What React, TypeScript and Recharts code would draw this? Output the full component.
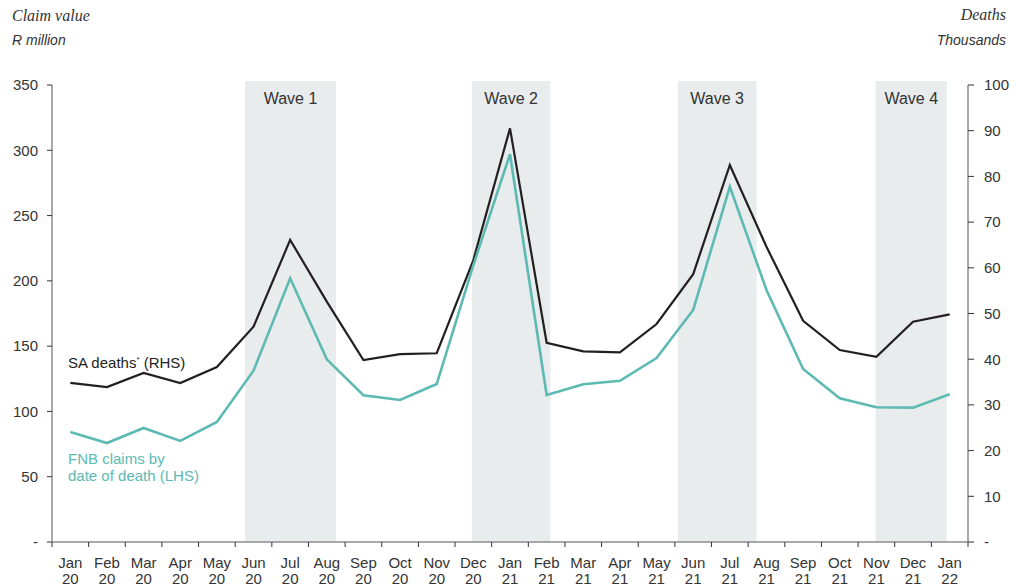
import React from 'react';
import { LineChart, Line, XAxis, YAxis, ReferenceArea } from 'recharts';

const categories = [
  'Jan 20', 'Feb 20', 'Mar 20', 'Apr 20', 'May 20', 'Jun 20', 'Jul 20', 'Aug 20', 'Sep 20', 'Oct 20', 'Nov 20', 'Dec 20',
  'Jan 21', 'Feb 21', 'Mar 21', 'Apr 21', 'May 21', 'Jun 21', 'Jul 21', 'Aug 21', 'Sep 21', 'Oct 21', 'Nov 21', 'Dec 21',
  'Jan 22',
];

// FNB claims by date of death, R million (LHS)
const fnbClaims = [
  84.2, 75.8, 87.3, 77.4, 91.9, 131.2, 202, 139.9, 112.4, 108.8, 121, 212,
  297, 112.6, 120.8, 123.5, 140.9, 177.7, 272.1, 193, 132.5, 110.1, 103.2, 102.9,
  113.1,
];

// SA deaths, thousands (RHS)
const saDeaths = [
  34.8, 33.9, 37, 34.8, 38.3, 47.1, 66.1, 52.6, 39.8, 41.1, 41.3, 61.7,
  90.5, 43.6, 41.7, 41.5, 47.7, 58.6, 82.5, 64.6, 48.4, 42, 40.5, 48.2,
  49.8,
];

const leftTicks = [0, 50, 100, 150, 200, 250, 300, 350];
const rightTicks = [0, 10, 20, 30, 40, 50, 60, 70, 80, 90, 100];

// wave periods in month-index units
const waveNames = ['Wave 1', 'Wave 2', 'Wave 3', 'Wave 4'];
const waveStart = [4.77, 10.96, 16.58, 21.98];
const waveEnd = [7.25, 13.1, 18.73, 23.92];

const W = 1017;
const H = 585;
const MARGIN = { top: 85, right: 4, bottom: 0, left: 8 };
const LEFT_W = 44;
const RIGHT_W = 45;
const STEP = (W - MARGIN.left - MARGIN.right - LEFT_W - RIGHT_W) / categories.length;

const TEAL = '#5cbab2';
const DARK = '#231f20';
const TEXT = '#333';
const AXIS = '#8c8c8c';
const NARROW = "'Liberation Sans Narrow', 'Liberation Sans', Arial, sans-serif";
const SANS = "'Liberation Sans', Arial, sans-serif";
const SERIF = "'Liberation Serif', Georgia, serif";

const data = categories.map((c, i) => ({ idx: i, label: c, fnb: fnbClaims[i], deaths: saDeaths[i] }));

const MonthTick = (props: any) => {
  const { x, y, payload } = props;
  const [m, yr] = categories[payload.value].split(' ');
  const last = payload.value === categories.length - 1;
  return (
    <g>
      <line x1={x - STEP / 2} x2={x - STEP / 2} y1={y} y2={y + 5} stroke={TEXT} strokeWidth={1} />
      {last && <line x1={x + STEP / 2} x2={x + STEP / 2} y1={y} y2={y + 5} stroke={TEXT} strokeWidth={1} />}
      <text x={x} y={y + 25.5} textAnchor="middle" fontSize={15} fill={TEXT} fontFamily={NARROW}>{m}</text>
      <text x={x} y={y + 41.5} textAnchor="middle" fontSize={15} fill={TEXT} fontFamily={NARROW}>{yr}</text>
    </g>
  );
};

const WaveRect = (p: any) => (
  <rect x={p.x} y={p.y - 4} width={p.width} height={p.height + 4} fill="#e8eced" />
);

const zeroDash = (v: number) => (v === 0 ? '-' : String(v));

export default function App() {
  return (
    <div style={{ position: 'absolute', left: 0, top: 0, width: W, height: H, background: '#fff' }}>
      <LineChart width={W} height={H} data={data} margin={MARGIN}>
        <XAxis
          dataKey="idx"
          type="number"
          domain={[-0.5, categories.length - 0.5]}
          ticks={categories.map((_, i) => i)}
          interval={0}
          tick={MonthTick}
          tickLine={false}
          tickSize={0}
          tickMargin={0}
          axisLine={{ stroke: AXIS, strokeWidth: 1.5 }}
          height={43}
          allowDataOverflow
        />
        <YAxis
          yAxisId="left"
          domain={[0, 350]}
          ticks={leftTicks}
          interval={0}
          width={LEFT_W}
          tickSize={5}
          tickMargin={9}
          tickLine={{ stroke: TEXT }}
          axisLine={{ stroke: AXIS, strokeWidth: 1.5 }}
          tickFormatter={zeroDash}
          tick={{ fontSize: 15, fill: TEXT, fontFamily: NARROW }}
        />
        <YAxis
          yAxisId="right"
          orientation="right"
          domain={[0, 100]}
          ticks={rightTicks}
          interval={0}
          width={RIGHT_W}
          tickSize={6}
          tickMargin={10}
          tickLine={{ stroke: TEXT }}
          axisLine={{ stroke: AXIS, strokeWidth: 1.5 }}
          tickFormatter={zeroDash}
          tick={{ fontSize: 15, fill: TEXT, fontFamily: NARROW }}
        />
        {waveNames.map((name, i) => (
          <ReferenceArea
            key={name}
            yAxisId="left"
            x1={waveStart[i]}
            x2={waveEnd[i]}
            shape={WaveRect}
            label={{ value: name, position: 'insideTop', offset: 8, fill: TEXT, fontSize: 16, fontFamily: SANS }}
          />
        ))}
        <Line
          yAxisId="right"
          type="linear"
          dataKey="deaths"
          stroke={DARK}
          strokeWidth={2.2}
          dot={false}
          isAnimationActive={false}
        />
        <Line
          yAxisId="left"
          type="linear"
          dataKey="fnb"
          stroke={TEAL}
          strokeWidth={2.6}
          dot={false}
          isAnimationActive={false}
        />
      </LineChart>
      <svg width={W} height={H} style={{ position: 'absolute', left: 0, top: 0, pointerEvents: 'none' }}>
        <text x={12} y={21} fontFamily={SERIF} fontStyle="italic" fontSize={16} fill={TEXT}>Claim value</text>
        <text x={12} y={44.5} fontFamily={NARROW} fontStyle="italic" fontSize={14} fill={TEXT}>R million</text>
        <text x={1006} y={20} textAnchor="end" fontFamily={SERIF} fontStyle="italic" fontSize={16} fill={TEXT}>Deaths</text>
        <text x={1006} y={45} textAnchor="end" fontFamily={NARROW} fontStyle="italic" fontSize={14} fill={TEXT}>Thousands</text>
        <text x={68} y={367.5} fontFamily={SANS} fontSize={15} fill={DARK}>
          SA deaths<tspan dy={-6} fontSize={8}>*</tspan>
          <tspan dy={6}> (RHS)</tspan>
        </text>
        <text x={68} y={463.5} fontFamily={SANS} fontSize={15} fill={TEAL}>FNB claims by</text>
        <text x={68} y={480.5} fontFamily={SANS} fontSize={15} fill={TEAL}>date of death (LHS)</text>
      </svg>
    </div>
  );
}
